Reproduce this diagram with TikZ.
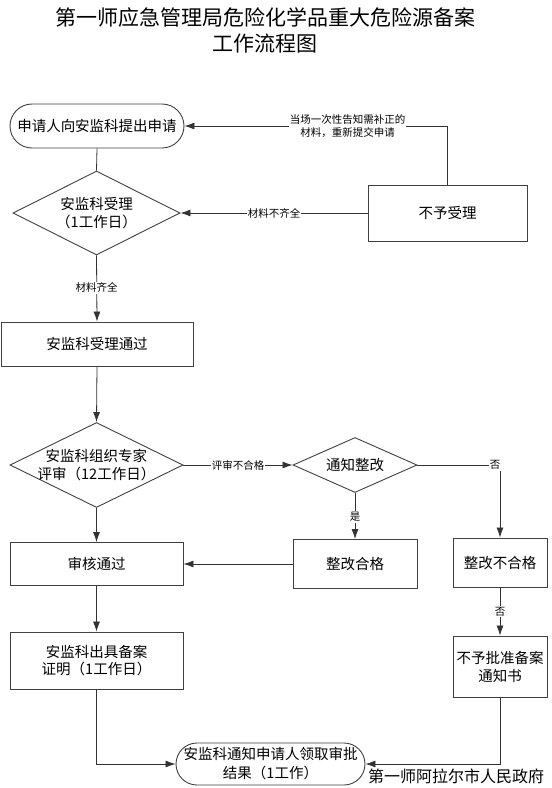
\documentclass[tikz,border=0pt]{standalone}
\usepackage{fontspec}
\setmainfont{Noto Sans CJK SC}
\usetikzlibrary{shapes.geometric,arrows.meta}
\begin{document}
\begin{tikzpicture}[x=1pt,y=-1pt,
 line/.style={draw=black!80, line width=0.8pt},
 arr/.style={line, -{Latex[length=10pt,width=7pt]}},
 box/.style={draw=black!75, line width=0.9pt, fill=white, inner sep=0pt},
 dia/.style={diamond, draw=black!75, line width=0.9pt, inner sep=0pt},
 txt/.style={inner sep=0pt, align=center, font=\fontsize{14.5}{18}\selectfont},
 lbl/.style={fill=white, inner sep=1pt, align=center, font=\fontsize{10.5}{13}\selectfont},
]
\useasboundingbox (0,0) rectangle (552,788);
% title
\node[inner sep=0pt, align=center, font=\fontsize{21}{26}\selectfont] (title) at (265.5,30) {第一师应急管理局危险化学品重大危险源备案\\工作流程图};
% shapes
\node[box, rounded corners=22pt, minimum width=174pt, minimum height=44pt] (n1) at (97,126) {};
\node[txt] (n1t) at (n1) {申请人向安监科提出申请};
\node[dia, minimum width=167pt, minimum height=84pt] (d1) at (96.5,213) {};
\node[txt] (d1t) at (d1) {安监科受理\\（1工作日）};
\node[box, minimum width=159pt, minimum height=56pt] (nb) at (447.5,213) {};
\node[txt] (nbt) at (nb) {不予受理};
\node[box, minimum width=192pt, minimum height=44pt] (b2) at (97,344) {};
\node[txt] (b2t) at (b2) {安监科受理通过};
\node[dia, minimum width=173pt, minimum height=85pt] (d2) at (96.5,465) {};
\node[txt] (d2t) at (d2) {安监科组织专家\\评审（12工作日）};
\node[dia, minimum width=124pt, minimum height=55pt] (d3) at (355,465) {};
\node[txt] (d3t) at (d3) {通知整改};
\node[box, minimum width=173pt, minimum height=43pt] (b3) at (96.5,564) {};
\node[txt] (b3t) at (b3) {审核通过};
\node[box, minimum width=124pt, minimum height=49pt] (b4) at (355,564) {};
\node[txt] (b4t) at (b4) {整改合格};
\node[box, minimum width=94pt, minimum height=49pt] (b5) at (500,562.5) {};
\node[txt] (b5t) at (b5) {整改不合格};
\node[box, minimum width=173pt, minimum height=57pt] (b6) at (96.5,660.5) {};
\node[txt, font=\fontsize{14.5}{17}\selectfont] (b6t) at (b6) {安监科出具备案\\证明（1工作日）};
\node[box, minimum width=94pt, minimum height=61pt] (b7) at (500,666.5) {};
\node[txt] (b7t) at (b7) {不予批准备案\\通知书};
\node[box, rounded corners=21pt, minimum width=189pt, minimum height=42pt] (n2) at (270.5,764) {};
\node[txt, font=\fontsize{14.5}{19}\selectfont] (n2t) at (n2) {安监科通知申请人领取审批\\结果（1工作）};
\node[inner sep=0pt, font=\fontsize{16}{18}\selectfont] (foot) at (456,776) {第一师阿拉尔市人民政府};
% connectors
\draw[line] (n1.south) -- (d1.north);
\draw[arr] (nb.north) |- (n1.east) node[lbl, pos=0.69] (l1) {当场一次性告知需补正的\\材料，重新提交申请};
\draw[arr] (nb.west) -- (d1.east) node[lbl, pos=0.5] (l2) {材料不齐全};
\draw[arr] (d1.south) -- (b2.north) node[lbl, pos=0.49] (l3) {材料齐全};
\draw[arr] (b2.south) -- (d2.north);
\draw[arr] (d2.east) -- (d3.west) node[lbl, pos=0.5] (l4) {评审不合格};
\draw[arr] (d3.south) -- (b4.north) node[lbl, pos=0.52] (l5) {是};
\draw[arr] (d3.east) -| (b5.north) node[lbl, pos=0.47] (l6) {否};
\draw[arr] (b4.west) -- (b3.east);
\draw[arr] (d2.south) -- (b3.north);
\draw[arr] (b3.south) -- (b6.north);
\draw[arr] (b5.south) -- (b7.north) node[lbl, pos=0.5] (l7) {否};
\draw[arr] (b6.south) |- (n2.west);
\draw[arr] (b7.south) |- (n2.east);
\end{tikzpicture}
\end{document}
